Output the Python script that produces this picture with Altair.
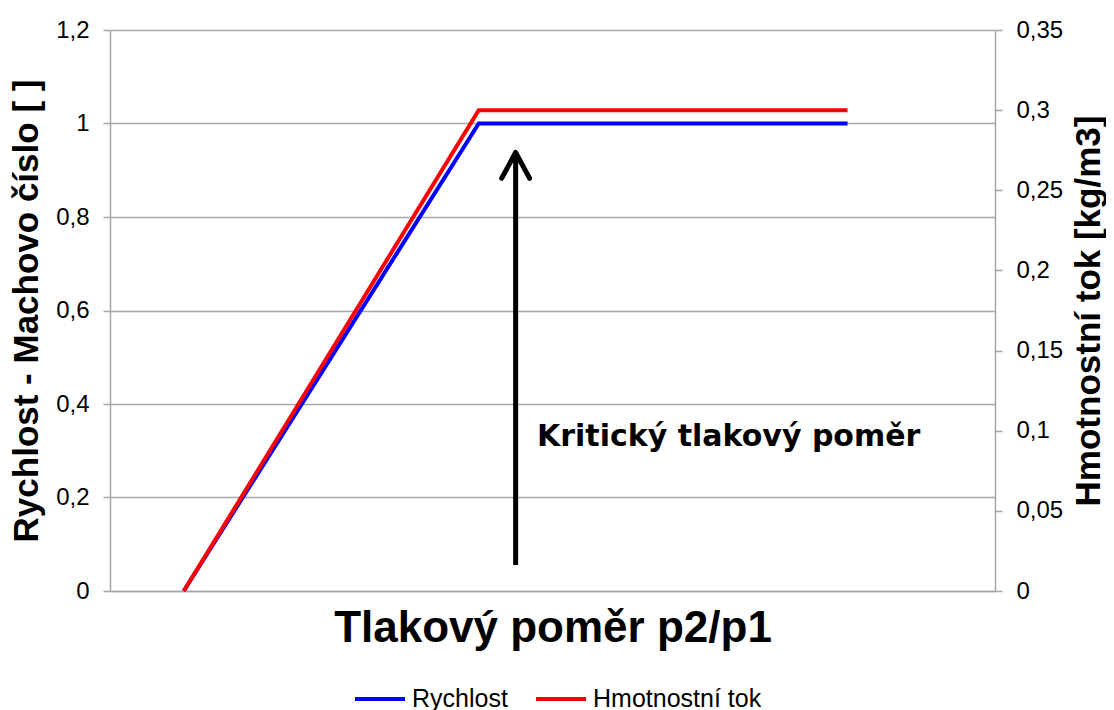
import altair as alt
import pandas as pd

# ---- data ----
x_vals = [1, 5, 10]
rychlost = [0, 1, 1]
hmotnostni_tok = [0, 0.3, 0.3]
series_names = ["Rychlost", "Hmotnostní tok"]
series_colors = ["#0000FF", "#FF0000"]
left_ticks = [0, 0.2, 0.4, 0.6, 0.8, 1.0, 1.2]
right_ticks = [0, 0.05, 0.1, 0.15, 0.2, 0.25, 0.3, 0.35]
annotation_text = ["Kritický tlakový poměr"]

blue_df = pd.DataFrame({"x": x_vals, "value": rychlost, "series": series_names[0]})
red_df = pd.DataFrame({"x": x_vals, "value": hmotnostni_tok, "series": series_names[1]})

# annotation anchors (in data units)
arrow_df = pd.DataFrame({"x": [5.5], "value": [0.0556], "value2": [0.938]})
head_df = pd.DataFrame({"x": [5.5], "value": [0.938]})
text_df = pd.DataFrame({"x": [5.79], "value": [0.329], "label": annotation_text})

GRID = "#A6A6A6"
FONT = "Liberation Sans"

x_enc = alt.X("x:Q", scale=alt.Scale(domain=[0, 12], nice=False, zero=False),
              axis=alt.Axis(title="Tlakový poměr p2/p1", labels=False, ticks=False,
                            grid=False, domainColor=GRID, domainWidth=1.5,
                            titleFont=FONT, titleFontSize=44, titleFontWeight="bold",
                            titleColor="black", titlePadding=15))

left_scale = alt.Scale(domain=[0, 1.2], nice=False, zero=True)
left_axis = alt.Axis(title="Rychlost - Machovo číslo [ ]", orient="left", values=left_ticks,
                     grid=True, gridColor=GRID, gridWidth=1.5,
                     domainColor=GRID, domainWidth=1.5, tickColor=GRID, tickSize=7, tickWidth=1.5,
                     labelExpr="replace(format(datum.value, '~g'), '.', ',')",
                     labelFont=FONT, labelFontSize=24, labelColor="black", labelPadding=14,
                     titleFont=FONT, titleFontSize=35, titleFontWeight="bold", titleColor="black",
                     titlePadding=11)
y_left = alt.Y("value:Q", scale=left_scale, axis=left_axis)

right_scale = alt.Scale(domain=[0, 0.35], nice=False, zero=True)
right_axis = alt.Axis(title="Hmotnostní tok [kg/m3]", orient="right", values=right_ticks,
                      grid=False, domainColor=GRID, domainWidth=1.5, tickColor=GRID, tickSize=7,
                      tickWidth=1.5,
                      labelExpr="replace(format(datum.value, '~g'), '.', ',')",
                      labelFont=FONT, labelFontSize=24, labelColor="black", labelPadding=14,
                      titleFont=FONT, titleFontSize=35, titleFontWeight="bold", titleColor="black",
                      titleAngle=270, titlePadding=44)
y_right = alt.Y("value:Q", scale=right_scale, axis=right_axis)

color_enc = alt.Color("series:N",
                      scale=alt.Scale(domain=series_names, range=series_colors),
                      legend=alt.Legend(title=None, orient="none", direction="horizontal",
                                        legendX=243, legendY=642,
                                        symbolType="stroke", symbolSize=2500,
                                        symbolStrokeWidth=4, labelFont=FONT, labelFontSize=25,
                                        labelLimit=400,
                                        labelColor="black", labelOffset=5, columnPadding=20))

blue = alt.Chart(blue_df).mark_line(strokeWidth=4).encode(x=x_enc, y=y_left, color=color_enc)

arrow = alt.Chart(arrow_df).mark_rule(color="black", strokeWidth=5).encode(
    x=x_enc, y=y_left, y2="value2:Q")

head = alt.Chart(head_df).mark_point(
    shape="M -1 1.85 L 0 0 L 1 1.85", filled=False, stroke="black", strokeWidth=5,
    size=784, strokeCap="round", strokeJoin="round", opacity=1).encode(x=x_enc, y=y_left)

text = alt.Chart(text_df).mark_text(
    align="left", baseline="middle", font="DejaVu Sans", fontWeight="bold",
    fontSize=30, color="black").encode(x=x_enc, y=y_left, text="label:N")

left_layer = alt.layer(blue, arrow, head, text)

red = alt.Chart(red_df).mark_line(strokeWidth=4).encode(x=x_enc, y=y_right, color=color_enc)

chart = alt.layer(left_layer, red).resolve_scale(y="independent").properties(
    width=885, height=561,
    autosize=alt.AutoSizeParams(type="none"),
    padding={"left": 102, "top": 22, "right": 111, "bottom": 119},
    background="white",
).configure_view(stroke=None)

chart.save("out.html", embed_options={"renderer": "svg", "actions": False})
